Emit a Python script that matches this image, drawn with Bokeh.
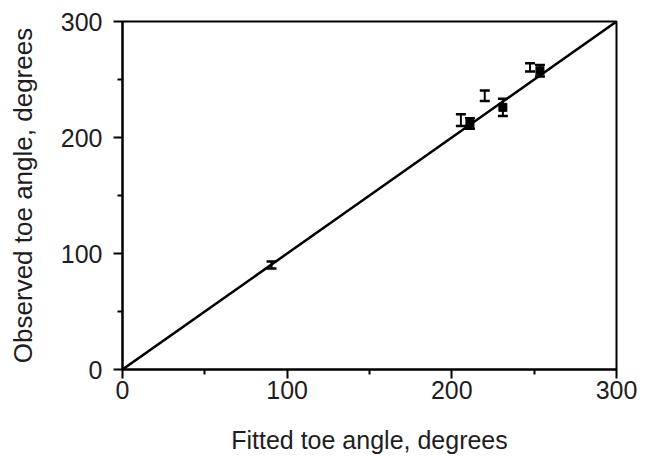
from bokeh.plotting import figure
from bokeh.models import ColumnDataSource, Whisker, Range1d, FixedTicker
from bokeh.embed import file_html
from bokeh.resources import INLINE

# Fitted vs observed toe angle (degrees)
open_fitted = [90.5, 205.5, 220.0, 247.5]
open_observed = [90.0, 215.0, 236.0, 260.5]
open_err = [3.0, 5.0, 4.5, 3.5]

filled_fitted = [211.0, 231.0, 253.5]
filled_observed = [212.0, 226.0, 257.5]
filled_err = [4.5, 7.5, 5.0]

line_x = [0, 300]
line_y = [0, 300]

x_ticks = [0, 100, 200, 300]
y_ticks = [0, 100, 200, 300]
minor_ticks = [50, 150, 250]

p = figure(width=646, height=457, output_backend="svg", toolbar_location=None,
           x_range=Range1d(0, 300), y_range=Range1d(0, 300))
p.min_border_left = 122
p.min_border_right = 30
p.min_border_top = 21
p.min_border_bottom = 88
p.background_fill_color = "white"
p.border_fill_color = "white"
p.grid.visible = False
p.outline_line_color = "black"
p.outline_line_width = 2

p.line(line_x, line_y, line_color="black", line_width=2.5)

def error_bars(xs, ys, errs):
    src = ColumnDataSource(dict(x=xs, lo=[y - e for y, e in zip(ys, errs)],
                                hi=[y + e for y, e in zip(ys, errs)]))
    w = Whisker(source=src, base="x", lower="lo", upper="hi", dimension="height",
                line_color="black", line_width=2)
    w.upper_head.size = 10
    w.lower_head.size = 10
    w.upper_head.line_width = 2.5
    w.lower_head.line_width = 2.5
    p.add_layout(w)
    return src

error_bars(open_fitted, open_observed, open_err)
error_bars(filled_fitted, filled_observed, filled_err)
p.scatter(filled_fitted, filled_observed, marker="square", size=8,
          fill_color="black", line_color="black")

for ax, ticks in ((p.xaxis, x_ticks), (p.yaxis, y_ticks)):
    ax.ticker = FixedTicker(ticks=ticks, minor_ticks=minor_ticks)
    ax.axis_line_width = 2
    ax.major_tick_line_width = 2
    ax.minor_tick_line_width = 2
    ax.major_tick_out = 9
    ax.major_tick_in = 0
    ax.minor_tick_out = 5
    ax.minor_tick_in = 0
    ax.major_label_text_font = "Liberation Sans"
    ax.major_label_text_font_size = "25px"
    ax.major_label_text_color = "#1e1e1e"
    ax.axis_label_text_font = "Liberation Sans"
    ax.axis_label_text_font_style = "normal"
    ax.axis_label_text_color = "#1e1e1e"

p.xaxis.axis_label = "Fitted toe angle, degrees"
p.yaxis.axis_label = "Observed toe angle, degrees"
p.xaxis.axis_label_text_font_size = "25px"
p.yaxis.axis_label_text_font_size = "26px"
p.xaxis.major_label_standoff = 2
p.yaxis.major_label_standoff = 11
p.xaxis.axis_label_standoff = 24
p.yaxis.axis_label_standoff = 20

open("out.html", "w").write(file_html(p, INLINE))
